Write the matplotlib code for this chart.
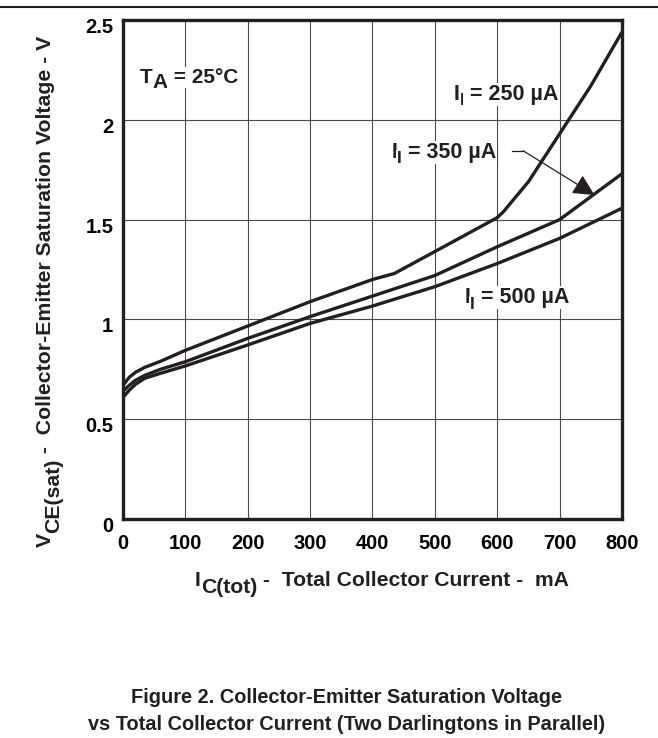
import matplotlib.pyplot as plt
import matplotlib as mpl
from matplotlib.lines import Line2D
from matplotlib.transforms import ScaledTranslation

mpl.rcParams['font.family'] = ['Liberation Sans', 'DejaVu Sans']
mpl.rcParams['font.weight'] = 'bold'
mpl.rcParams['font.size'] = 14.5

INK = '#231f20'

# curves (IC in mA, VCE(sat) in V)
ic_250 = [0, 10, 20, 35, 60, 100, 200, 300, 400, 435, 500, 600, 610, 650, 700, 750, 800]
vce_250 = [0.67, 0.71, 0.735, 0.76, 0.79, 0.845, 0.967, 1.089, 1.20, 1.23, 1.34, 1.51, 1.54, 1.69, 1.93, 2.17, 2.44]

ic_350 = [0, 10, 20, 35, 60, 100, 200, 300, 400, 500, 600, 700, 750, 800]
vce_350 = [0.64, 0.67, 0.695, 0.72, 0.75, 0.788, 0.905, 1.014, 1.117, 1.22, 1.364, 1.50, 1.615, 1.73]

ic_500 = [0, 10, 20, 35, 60, 100, 200, 300, 400, 500, 600, 700, 800]
vce_500 = [0.61, 0.645, 0.675, 0.705, 0.73, 0.767, 0.872, 0.98, 1.067, 1.164, 1.28, 1.406, 1.557]

x_ticks = [0, 100, 200, 300, 400, 500, 600, 700, 800]
y_ticks = [0, 0.5, 1, 1.5, 2, 2.5]
y_tick_labels = ['0', '0.5', '1', '1.5', '2', '2.5']

# pointer from the 350 uA label to its curve
arrow_tail = [(623, 1.845), (641.5, 1.845)]
arrow_tip = (756, 1.623)

fig = plt.figure(figsize=(6.58, 7.38), dpi=100)
ax = fig.add_axes([0.1869, 0.2967, 0.7584, 0.6762])

for x, y in [(ic_250, vce_250), (ic_350, vce_350), (ic_500, vce_500)]:
    ax.plot(x, y, color=INK, lw=2.4, solid_joinstyle='round', solid_capstyle='butt')

ax.set_xlim(0, 800)
ax.set_ylim(0, 2.5)
ax.set_xticks(x_ticks)
ax.set_yticks(y_ticks)
ax.set_yticklabels(y_tick_labels)
ax.set_axisbelow(True)
ax.grid(True, color='#4a4a4a', lw=0.8)
ax.tick_params(length=0)
ax.tick_params(axis='x', pad=11)
ax.tick_params(axis='y', pad=7)
for lab in ax.get_yticklabels():
    lab.set_transform(lab.get_transform() + ScaledTranslation(0, -4 / 72, fig.dpi_scale_trans))
for s in ax.spines.values():
    s.set_linewidth(2.4)
    s.set_color(INK)

# arrow
ax.plot([p[0] for p in arrow_tail], [p[1] for p in arrow_tail], color=INK, lw=0.9)
ax.annotate('', xy=arrow_tip, xytext=arrow_tail[1],
            arrowprops=dict(arrowstyle='-|>,head_length=0.6,head_width=0.3', lw=0.9, color=INK,
                            mutation_scale=22, shrinkA=0, shrinkB=0))


def rich(parts, xy, coords, rot=0, box=False):
    # parts: (text, baseline shift in points, fontsize)
    prev = None
    for s, dy, fs in parts:
        if prev is None:
            xc, pos = coords, xy
        elif rot == 0:
            xc, pos = (prev, coords), (1, xy[1])
        else:
            xc, pos = (coords, prev), (xy[0], 1)
        off = (0, dy) if rot == 0 else (-dy, 0)
        kw = {}
        if box:
            kw['bbox'] = dict(boxstyle='square,pad=0.05', fc='white', ec='none')
        prev = ax.annotate(s, pos, xycoords=xc, xytext=off, textcoords='offset points',
                           rotation=rot, rotation_mode='anchor', ha='left', va='baseline',
                           fontsize=fs, color=INK, annotation_clip=False, zorder=4, **kw)


rich([('T', 0, 15), ('A', -3.5, 15), (' = 25°C', 0, 15)], (27, 2.184), 'data', box=True)
rich([('I', 0, 15.5), ('I', -4, 12.5), (' = 250 µA', 0, 15.5)], (530, 2.10), 'data', box=True)
rich([('I', 0, 15.5), ('I', -4, 12.5), (' = 350 µA', 0, 15.5)], (430, 1.81), 'data', box=True)
rich([('I', 0, 15.5), ('I', -4, 12.5), (' = 500 µA', 0, 15.5)], (547, 1.082), 'data', box=True)

rich([('V', 0, 15.3), ('CE(sat)', -5.5, 15.3), (' -  Collector-Emitter Saturation Voltage - V', 0, 15.3)],
     (0.078, 0.2588), 'figure fraction', rot=90)
rich([('I', 0, 15.2), ('C(tot)', -5, 15.2), (' -  Total Collector Current -  mA', 0, 15.2)],
     (0.2964, 0.206), 'figure fraction')

fig.text(0.527, 0.0474, 'Figure 2. Collector-Emitter Saturation Voltage',
         ha='center', va='baseline', fontsize=14.4, color=INK)
fig.text(0.527, 0.0108, 'vs Total Collector Current (Two Darlingtons in Parallel)',
         ha='center', va='baseline', fontsize=14.4, color=INK)

fig.add_artist(Line2D([0, 1], [0.9905, 0.9905], transform=fig.transFigure, color=INK, lw=1.5))

fig.savefig('out.png', dpi=100)
